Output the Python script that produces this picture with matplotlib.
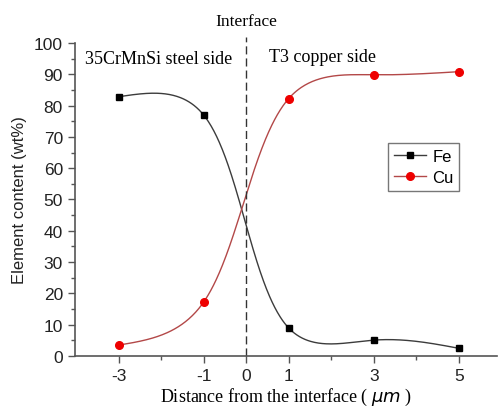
import numpy as np
import matplotlib
matplotlib.use("Agg")
import matplotlib.pyplot as plt
from matplotlib.ticker import MultipleLocator, FixedLocator

plt.rcParams['axes.unicode_minus'] = False

# data
distance = [-3, -1, 1, 3, 5]
fe = [82.8, 77.0, 9.0, 5.1, 2.5]
cu = [3.5, 17.2, 82.2, 89.8, 90.8]
x_ticks = [-3, -1, 0, 1, 3, 5]


def spline_coeffs(t, y):
    t = np.asarray(t, float)
    y = np.asarray(y, float)
    m = len(t)
    h = np.diff(t)
    A = np.zeros((m, m))
    b = np.zeros(m)
    A[0, 0] = 1
    A[-1, -1] = 1
    for i in range(1, m - 1):
        A[i, i - 1] = h[i - 1]
        A[i, i] = 2 * (h[i - 1] + h[i])
        A[i, i + 1] = h[i]
        b[i] = 6 * ((y[i + 1] - y[i]) / h[i] - (y[i] - y[i - 1]) / h[i - 1])
    return np.linalg.solve(A, b)


def spline_eval(t, y, M, tv):
    t = np.asarray(t, float)
    y = np.asarray(y, float)
    h = np.diff(t)
    out = np.empty_like(tv)
    for k, v in enumerate(tv):
        i = int(np.clip(np.searchsorted(t, v) - 1, 0, len(t) - 2))
        t1 = t[i + 1] - v
        t0 = v - t[i]
        hi = h[i]
        out[k] = (M[i] * t1 ** 3 / (6 * hi) + M[i + 1] * t0 ** 3 / (6 * hi)
                  + (y[i] / hi - M[i] * hi / 6) * t1
                  + (y[i + 1] / hi - M[i + 1] * hi / 6) * t0)
    return out


def parametric_spline(x, y, sx=42.6, sy=3.13, alpha=0.5, n=400):
    # parametric spline in screen-like units (centripetal parameterisation)
    x = np.asarray(x, float)
    y = np.asarray(y, float)
    d = np.hypot(np.diff(x) * sx, np.diff(y) * sy) ** alpha
    t = np.concatenate([[0], np.cumsum(d)])
    tv = np.linspace(0, t[-1], n)
    Mx = spline_coeffs(t, x)
    My = spline_coeffs(t, y)
    return spline_eval(t, x, Mx, tv), spline_eval(t, y, My, tv)


fig = plt.figure(figsize=(4.98, 4.10), dpi=100)
ax = fig.add_axes([0.150, 0.129, 0.848, 0.764])

serif = "Liberation Serif"
sans = "Liberation Sans"

fe_col = "#3c3c3c"
cu_col = "#b34848"

xs, ys = parametric_spline(distance, fe)
ax.plot(xs, ys, color=fe_col, lw=1.0)
xs, ys = parametric_spline(distance, cu)
ax.plot(xs, ys, color=cu_col, lw=1.0)

ax.plot(distance, fe, ls="none", marker="s", ms=4.8, color="black")
ax.plot(distance, cu, ls="none", marker="o", ms=5.5, color="#ee0000")

# legend proxies
ax.plot([], [], color=fe_col, lw=1.0, marker="s", ms=4.8, mfc="black", mec="black", label="Fe")
ax.plot([], [], color=cu_col, lw=1.0, marker="o", ms=5.5, mfc="#ee0000", mec="#ee0000", label="Cu")

ax.axvline(0, ymin=0, ymax=1.02, color="#333333", lw=1.0, ls=(0, (5.8, 2.9)), clip_on=False)

ax.set_xlim(-4.03, 5.9)
ax.set_ylim(0, 100)
ax.xaxis.set_major_locator(FixedLocator(x_ticks))
ax.xaxis.set_minor_locator(FixedLocator([-2, 2, 4]))
ax.yaxis.set_major_locator(MultipleLocator(10))
ax.yaxis.set_minor_locator(MultipleLocator(5))

for s in ["top", "right"]:
    ax.spines[s].set_visible(False)
for s in ["left", "bottom"]:
    ax.spines[s].set_color("#555555")
    ax.spines[s].set_linewidth(1.2)

ax.tick_params(which="major", direction="out", length=5, width=1.0, color="#555555",
               labelsize=12.5, labelcolor="#222222")
ax.tick_params(which="minor", direction="out", length=3, width=1.0, color="#555555")
for lab in ax.get_xticklabels() + ax.get_yticklabels():
    lab.set_family(sans)

ax.set_ylabel("Element content (wt%)", family=sans, fontsize=12, labelpad=5, color="#222222")
ax.set_xlabel("Distance from the interface ( $\\mu m$ )", family=serif, fontsize=13, labelpad=2)

ax.text(0, 1.07, "Interface", transform=ax.get_xaxis_transform(), ha="center", va="center",
        family=serif, fontsize=12.5)
ax.text(-3.78, 94.9, "35CrMnSi steel side", ha="left", va="center", family=serif, fontsize=13)
ax.text(0.53, 95.8, "T3 copper side", ha="left", va="center", family=serif, fontsize=13)

leg = ax.legend(loc="upper left", bbox_to_anchor=(0.742, 0.68), frameon=True, fancybox=False,
                prop={"family": sans, "size": 12}, handlelength=1.9, handletextpad=0.4,
                borderpad=0.35, labelspacing=0.35, borderaxespad=0)
leg.get_frame().set_edgecolor("#555555")
leg.get_frame().set_linewidth(1.0)

fig.savefig("out.png", dpi=100)
